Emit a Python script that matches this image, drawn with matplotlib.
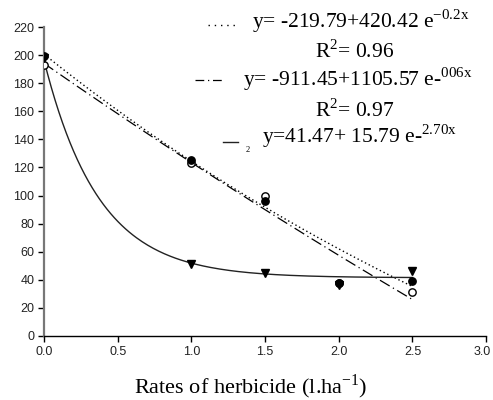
import matplotlib
matplotlib.use("Agg")
import matplotlib.pyplot as plt
import numpy as np

plt.rcParams['mathtext.fontset'] = 'custom'
plt.rcParams['mathtext.rm'] = 'Liberation Serif'

# observed points
rates = [0.0, 1.0, 1.5, 2.0, 2.5]
filled = [199, 125, 96, 38, 39]
opened = [193, 123, 100, 38, 31]
tri = [198, 51, 45, 36, 46]

# fitted models y = a + b*exp(-k*x)
fit_dot = (-219.79, 420.42, 0.2)
fit_dashdot = (-911.45, 1105.57, 0.066)
fit_solid = (41.47, 155.0, 2.70)

xticks = [0.0, 0.5, 1.0, 1.5, 2.0, 2.5, 3.0]
xlabels = ['0.0', '0.5', '1.0', '1.5', '2.0', '2.5', '3.0']

xs = np.linspace(0, 2.5, 200)

def model(p, x):
    return p[0] + p[1] * np.exp(-p[2] * x)

fig = plt.figure(figsize=(4.93, 4.00), dpi=100)
ax = fig.add_axes([0.0892, 0.16, 0.897, 0.7725])

ax.plot(xs, model(fit_dot, xs), color='black', lw=1, linestyle=(0, (1, 2)))
ax.plot(xs, model(fit_dashdot, xs), color='black', lw=0.9, linestyle=(0, (9, 3, 1, 3)))
ax.plot(xs, model(fit_solid, xs), color='#222222', lw=1)

ax.plot(rates, opened, 'o', ms=5.3, mfc='white', mec='black', mew=1, zorder=3)
ax.plot(rates, tri, 'v', ms=6, color='black', zorder=4)
ax.plot(rates, filled, 'o', ms=5.3, color='black', zorder=5)

ax.set_xlim(0, 3.0)
ax.set_ylim(0, 220)
ax.set_xticks(xticks)
# last label drawn by hand a little to the left so it stays on the canvas
ax.set_xticklabels(xlabels[:-1] + [''])
ax.annotate(xlabels[-1], xy=(xticks[-1], 0), xycoords=('data', 'axes fraction'),
            xytext=(-3, -7), textcoords='offset points', ha='center', va='top',
            fontfamily='Liberation Sans', fontsize=9, color='#222222')
ax.set_yticks(range(0, 221, 20))
for lab in ax.get_xticklabels() + ax.get_yticklabels():
    lab.set_fontfamily('Liberation Sans')
    lab.set_fontsize(9)
    lab.set_color('#222222')
ax.tick_params(direction='out', length=4, width=1, pad=3)
ax.spines['top'].set_visible(False)
ax.spines['right'].set_visible(False)
ax.spines['left'].set_color('#777777')
ax.spines['left'].set_linewidth(1.6)
ax.spines['bottom'].set_linewidth(1)


def fx(px):
    return px / 493

def fy(py):
    return 1 - py / 400

fig.text(fx(251), fy(387), r'Rates of herbicide (l.ha$^{\mathrm{-1}}$)',
         fontfamily='Liberation Serif', fontsize=16, ha='center', va='center')

# equations (legend-like text block)
tf = dict(fontfamily='Liberation Serif', fontsize=15.5, ha='center', va='center')
fig.text(fx(361), fy(21), r'y= -219.79+420.42 e$^{\mathrm{-0.2x}}$', **tf)
fig.text(fx(355), fy(51), r'R$^{\mathrm{2}}$= 0.96', **tf)
fig.text(fx(358), fy(79), r'y= -911.45+1105.57 e-$^{\mathrm{006x}}$', **tf)
fig.text(fx(355), fy(110), r'R$^{\mathrm{2}}$= 0.97', **tf)
fig.text(fx(360), fy(136), r'y=41.47+ 15.79 e-$^{\mathrm{2.70x}}$', **tf)
fig.text(fx(248), fy(150), '2', fontfamily='Liberation Serif', fontsize=6,
         ha='center', va='center')

fig.add_artist(plt.Line2D([fx(208), fx(236)], [fy(25), fy(25)], color='black',
                          lw=1, linestyle=(0, (1, 3.5))))
fig.add_artist(plt.Line2D([fx(195), fx(224)], [fy(80), fy(80)], color='black',
                          lw=0.9, linestyle=(0, (7, 3, 1, 3))))
fig.add_artist(plt.Line2D([fx(223), fx(238)], [fy(142), fy(142)], color='#222222', lw=1))

fig.savefig('out.png', dpi=100)
